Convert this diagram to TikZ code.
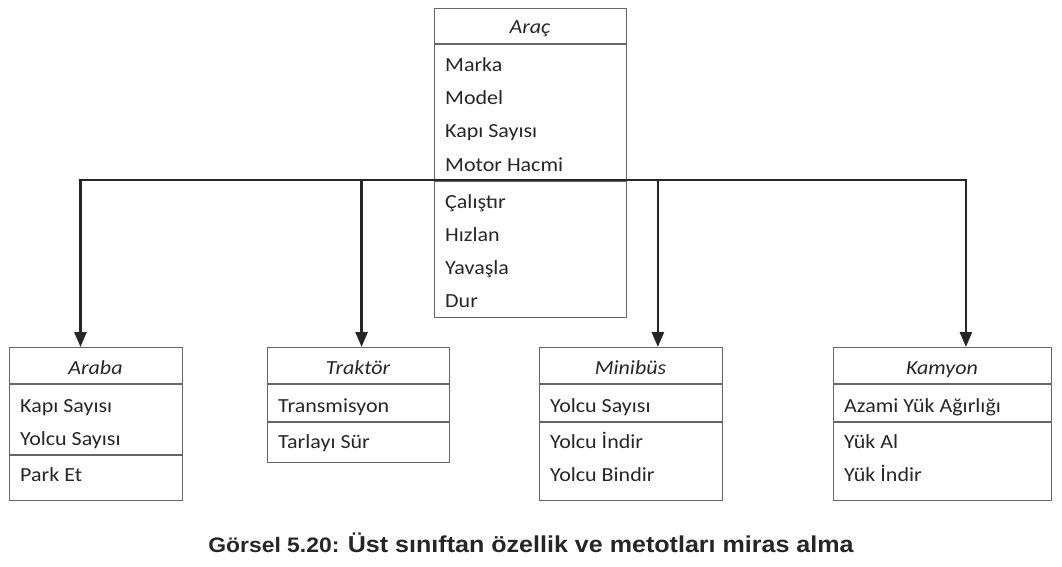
\documentclass[tikz,border=0pt]{standalone}
\usepackage{fontspec}
\setmainfont{Carlito}[FakeStretch=1.1]
\newfontfamily\capfont{Liberation Sans}[FakeStretch=1.09]
\usetikzlibrary{calc,arrows.meta}

\tikzset{
  classbox/.style={draw=black!60, line width=1.3pt, anchor=north west, inner sep=0pt},
  classname/.style={font=\fontsize{20}{24}\selectfont\itshape, text=black!85, anchor=base, inner sep=0pt},
  member/.style={font=\fontsize{20}{24}\selectfont, text=black!85, anchor=base west, inner sep=0pt},
  sepline/.style={draw=black!60, line width=1.3pt},
  conn/.style={draw=black!85, line width=2.6pt, -{Triangle[length=15pt,width=12pt]}},
  caption/.style={font=\capfont\bfseries, text=black!85, anchor=base, inner sep=0pt}
}

\begin{document}
\begin{tikzpicture}[x=1pt,y=-1pt]
  \useasboundingbox (0,0) rectangle (1062,567);

  % super class
  \node[classbox, minimum width=192pt, minimum height=309pt] (arac) at (434,8) {};
  \node[classname] (arac-name) at (530,34) {Araç};
  \draw[sepline] (434,44) -- (626,44);
  \draw[sepline] (434,181) -- (626,181);
  \foreach \txt [count=\i] in {Marka,Model,Kapı Sayısı,Motor Hacmi}
    \node[member] (arac-a\i) at (445,39+33*\i) {\txt};
  \foreach \txt [count=\i] in {Çalıştır,Hızlan,Yavaşla,Dur}
    \node[member] (arac-m\i) at (445,175+33*\i) {\txt};

  % sub classes
  \node[classbox, minimum width=173pt, minimum height=153pt] (araba) at (9,347) {};
  \node[classname] (araba-name) at (95.5,374) {Araba};
  \draw[sepline] (9,384) -- (182,384);
  \draw[sepline] (9,455) -- (182,455);
  \node[member] (araba-a1) at (20,412) {Kapı Sayısı};
  \node[member] (araba-a2) at (20,445) {Yolcu Sayısı};
  \node[member] (araba-m1) at (20,481) {Park Et};

  \node[classbox, minimum width=182pt, minimum height=115pt] (traktor) at (267,347) {};
  \node[classname] (traktor-name) at (358,374) {Traktör};
  \draw[sepline] (267,384) -- (449,384);
  \draw[sepline] (267,422) -- (449,422);
  \node[member] (traktor-a1) at (278,412) {Transmisyon};
  \node[member] (traktor-m1) at (278,448) {Tarlayı Sür};

  \node[classbox, minimum width=183pt, minimum height=153pt] (minibus) at (539,347) {};
  \node[classname] (minibus-name) at (630.5,374) {Minibüs};
  \draw[sepline] (539,384) -- (722,384);
  \draw[sepline] (539,422) -- (722,422);
  \node[member] (minibus-a1) at (550,412) {Yolcu Sayısı};
  \node[member] (minibus-m1) at (550,448) {Yolcu İndir};
  \node[member] (minibus-m2) at (550,481) {Yolcu Bindir};

  \node[classbox, minimum width=218pt, minimum height=153pt] (kamyon) at (833,347) {};
  \node[classname] (kamyon-name) at (942,374) {Kamyon};
  \draw[sepline] (833,384) -- (1051,384);
  \draw[sepline] (833,422) -- (1051,422);
  \node[member] (kamyon-a1) at (844,412) {Azami Yük Ağırlığı};
  \node[member] (kamyon-m1) at (844,448) {Yük Al};
  \node[member] (kamyon-m2) at (844,481) {Yük İndir};

  % inheritance
  \coordinate (bus) at (530,180);
  \draw[conn] (bus) -| ($(araba.north west)!.41!(araba.north east)$);
  \draw[conn] (bus) -| ($(traktor.north west)!.516!(traktor.north east)$);
  \draw[conn] (bus) -| ($(minibus.north west)!.645!(minibus.north east)$);
  \draw[conn] (bus) -| ($(kamyon.north west)!.606!(kamyon.north east)$);

  \node[caption] (cap) at (531,552) {\fontsize{21}{25}\selectfont Görsel 5.20: \fontsize{23}{27}\selectfont Üst sınıftan özellik ve metotları miras alma};
\end{tikzpicture}
\end{document}
